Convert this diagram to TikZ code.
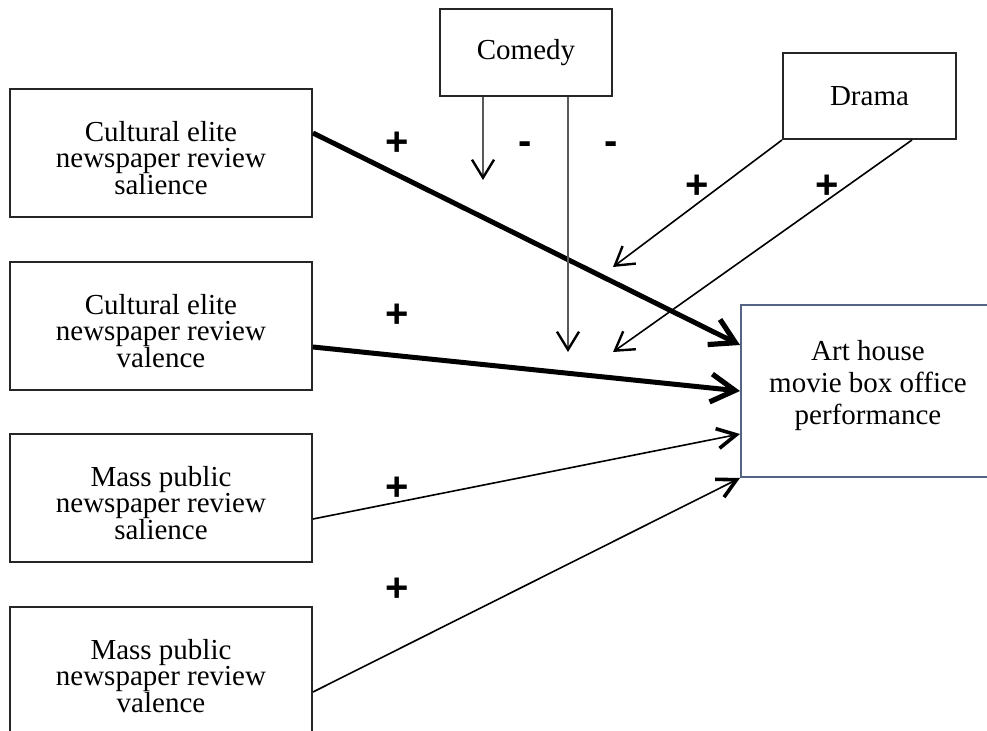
\documentclass[tikz,border=0pt]{standalone}
\usepackage{fontspec}
\setmainfont{Liberation Serif}
\newfontfamily\signfont{Liberation Sans}
\usetikzlibrary{arrows.meta}
\definecolor{tgtblue}{RGB}{84,100,130}

\begin{document}
\begin{tikzpicture}[x=0.5pt,y=-0.5pt,
    % 结点样式
    VarNode/.style={rectangle,draw=black!85,line width=1pt,inner sep=0pt,
        minimum width=151pt,minimum height=64pt},
    VarText/.style={align=center,inner sep=0pt,yshift=-2.5pt,font=\fontsize{14.5}{13.2}\selectfont},
    GenreNode/.style={rectangle,draw=black!85,line width=1pt,inner sep=0pt,
        minimum width=86pt,minimum height=43.5pt,font=\fontsize{14.5}{13.2}\selectfont},
    OutNode/.style={rectangle,draw=tgtblue,line width=1pt,inner sep=0pt,
        minimum width=127pt,minimum height=86pt},
    OutText/.style={align=center,inner sep=0pt,yshift=2.75pt,font=\fontsize{14.5}{16.2}\selectfont},
    SignNode/.style={inner sep=0pt,text height=14pt,text depth=0pt,
        font=\signfont\bfseries\fontsize{20}{20}\selectfont},
    % 箭头样式
    ThickArrow/.style={line width=2.5pt,-{Straight Barb[line width=2.6pt,length=12pt,width=14pt]}},
    ThinArrow/.style={line width=0.8pt,-{Straight Barb[line width=1.8pt,length=9.5pt,width=10pt]}},
    ModArrow/.style={line width=0.8pt,-{Straight Barb[line width=1.2pt,length=9pt,width=11pt]}}]

    % 画布范围
    \clip (0,0) rectangle (987,731);

    % 左侧四个自变量结点
    \foreach \name/\ya/\txt in {cs/153/{Cultural elite\\newspaper review\\salience},
        cv/326/{Cultural elite\\newspaper review\\valence},
        ms/498/{Mass public\\newspaper review\\salience},
        mv/671/{Mass public\\newspaper review\\valence}}
    \node[VarNode,label={[VarText]center:\txt}] (\name) at (161,\ya) {};

    % 调节变量结点
    \node[GenreNode] (com) at (526,52.5) {Comedy};
    \node[GenreNode,minimum width=86.5pt,minimum height=43pt] (dra) at (869.5,96) {Drama};

    % 因变量结点
    \node[OutNode,label={[OutText]center:Art house\\movie box office\\performance}] (tgt) at (868,391) {};

    % 自变量到因变量之间的连线
    \draw[ThickArrow]([yshift=10pt]cs.east)--([yshift=23pt]tgt.west);
    \draw[ThickArrow]([yshift=-10.5pt]cv.east)--(tgt.west);
    \draw[ThinArrow]([yshift=-10.5pt]ms.east)--([yshift=-21.5pt]tgt.west);
    \draw[ThinArrow]([yshift=-10.5pt]mv.east)--(tgt.south west);

    % 调节效应的连线
    \coordinate (c_1) at (483,180);
    \coordinate (c_2) at (568,352);
    \coordinate (d_1) at (613,267);
    \coordinate (d_2) at (613,352);
    \draw[ModArrow,draw=black!65,-{Straight Barb[line width=1.2pt,length=9pt,width=11pt,color=black]}]
        ([xshift=-21.5pt]com.south)--(c_1);
    \draw[ModArrow,draw=black!65,-{Straight Barb[line width=1.2pt,length=9pt,width=11pt,color=black]}]
        ([xshift=21pt]com.south)--(c_2);
    \draw[ModArrow](dra.south west)--(d_1);
    \draw[ModArrow]([xshift=21.25pt]dra.south)--(d_2);

    % 正负号
    \foreach \px/\py/\s [count=\i] in {397/142/+,525/141/-,611/141/-,697/185/+,827/185/+,
        397/314/+,397/487/+,397/588/+}
    \node[SignNode] (s_\i) at (\px,\py) {\s};
\end{tikzpicture}
\end{document}
